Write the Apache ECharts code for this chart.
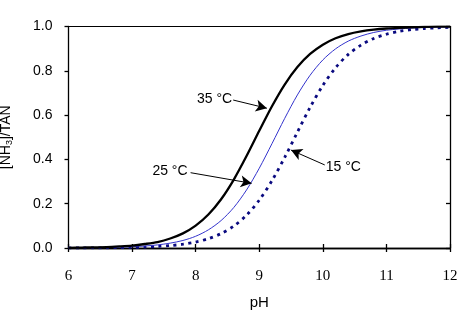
<!DOCTYPE html>
<html><head><meta charset="utf-8">
<script src="https://cdn.jsdelivr.net/npm/echarts@6/dist/echarts.min.js"></script>
<style>html,body{margin:0;padding:0;background:#fff}#c{width:474px;height:323px}</style>
</head><body><div id="c"></div>
<script>
var pH = [6.0,6.2,6.4,6.6,6.8,7.0,7.2,7.4,7.6,7.8,8.0,8.2,8.4,8.6,8.8,9.0,9.2,9.4,9.6,9.8,10.0,10.2,10.4,10.6,10.8,11.0,11.2,11.4,11.6,11.8,12.0];
var t35 = [0.001,0.002,0.003,0.004,0.007,0.011,0.018,0.027,0.043,0.066,0.101,0.151,0.220,0.309,0.415,0.529,0.640,0.738,0.817,0.876,0.918,0.947,0.966,0.978,0.986,0.991,0.994,0.996,0.998,0.999,0.999];
var t25 = [0.001,0.001,0.001,0.002,0.004,0.006,0.009,0.014,0.022,0.034,0.053,0.082,0.124,0.183,0.262,0.360,0.471,0.585,0.691,0.780,0.849,0.899,0.934,0.957,0.973,0.983,0.989,0.993,0.996,0.997,0.998];
var t15 = [0.000,0.000,0.001,0.001,0.002,0.003,0.004,0.007,0.011,0.017,0.027,0.042,0.065,0.099,0.148,0.216,0.304,0.409,0.523,0.635,0.734,0.814,0.874,0.916,0.946,0.965,0.978,0.986,0.991,0.994,0.996];
var seriesNames = ['35 °C','25 °C','15 °C'];
var xTicks = [6,7,8,9,10,11,12];
var yTicks = [0,0.2,0.4,0.6,0.8,1.0];
// annotation arrows: [startPH, startVal, tipPH, tipVal]
var arrow35 = [8.59,0.668,9.12,0.631];
var arrow25 = [7.92,0.340,8.88,0.292];
var arrow15 = [10.03,0.375,9.50,0.442];

function pts(ys){ return pH.map(function(x,i){return [x, ys[i]];}); }
function ml(a){ return [[{coord:[a[0],a[1]]},{coord:[a[2],a[3]]}]]; }
var markLineBase = function(a){ return {silent:true, symbol:['none','arrow'], symbolSize:[9,11], label:{show:false},
  lineStyle:{color:'#000',width:1,type:'solid'}, emphasis:{disabled:true}, data: ml(a), animation:false}; };

var chart = echarts.init(document.getElementById('c'), null, {renderer:'canvas'});
var sansFont = 'Liberation Sans, Arial, sans-serif';
var serifFont = 'Liberation Serif, Times New Roman, serif';
var axX = {type:'value', min:6, max:12, interval:1, axisLine:{lineStyle:{color:'#000',width:1.3}}, splitLine:{show:false}};
var axY = {type:'value', min:0, max:1, interval:0.2, axisLine:{lineStyle:{color:'#000',width:1.3}}, splitLine:{show:false}};
chart.setOption({
  animation:false,
  grid:{left:68.5, right:24, top:26.5, bottom:75, containLabel:false, outerBoundsMode:'none'},
  xAxis:[
    Object.assign({}, axX, {position:'bottom', axisTick:{length:4, lineStyle:{color:'#000',width:1.3}},
      axisLabel:{fontFamily:serifFont, fontSize:15, color:'#000', margin:21},
      name:'pH', nameLocation:'middle', nameGap:47, nameTextStyle:{fontFamily:sansFont, fontSize:15, color:'#000'}}),
    Object.assign({}, axX, {position:'bottom', axisTick:{inside:true, length:4, lineStyle:{color:'#000',width:1.3}}, axisLabel:{show:false}}),
    Object.assign({}, axX, {position:'top', axisLine:{lineStyle:{color:'#000',width:1}}, axisTick:{show:false}, axisLabel:{show:false}})
  ],
  yAxis:[
    Object.assign({}, axY, {axisTick:{length:4, lineStyle:{color:'#000',width:1.3}},
      axisLabel:{fontFamily:sansFont, fontSize:14, color:'#000', margin:16, formatter:function(v){return v.toFixed(1);}},
      name:'[NH{s|3}]/TAN', nameLocation:'middle', nameGap:54, nameRotate:90,
      nameTextStyle:{fontFamily:sansFont, fontSize:14, color:'#000', rich:{s:{fontSize:9, fontFamily:sansFont, color:'#000', verticalAlign:'bottom', padding:[8,0,0,0]}}}}),
    Object.assign({}, axY, {axisTick:{inside:true, length:4, lineStyle:{color:'#000',width:1.3}}, axisLabel:{show:false}})
  ],
  series:[
    {name:seriesNames[2], type:'line', data:pts(t15), showSymbol:false, smooth:0.3, lineStyle:{color:'#0a0a80', width:2.8, type:[3,4.5]}, markLine: markLineBase(arrow15)},
    {name:seriesNames[1], type:'line', data:pts(t25), showSymbol:false, smooth:0.3, lineStyle:{color:'#3333cc', width:1}, markLine: markLineBase(arrow25)},
    {name:seriesNames[0], type:'line', data:pts(t35), showSymbol:false, smooth:0.3, lineStyle:{color:'#000', width:2.3}, markLine: markLineBase(arrow35)}
  ]
});
function px(a){ return chart.convertToPixel({xAxisIndex:0, yAxisIndex:0}, [a[0],a[1]]); }
var p35 = px(arrow35), p25 = px(arrow25), p15 = px(arrow15);
var tStyle = {fontFamily:sansFont, fontSize:14, fill:'#000', verticalAlign:'middle'};
chart.setOption({graphic:[
  {type:'text', x:p35[0]-1, y:p35[1]-1, style:Object.assign({text:seriesNames[0], align:'right'}, tStyle)},
  {type:'text', x:p25[0]-3, y:p25[1]-2, style:Object.assign({text:seriesNames[1], align:'right'}, tStyle)},
  {type:'text', x:p15[0]+1, y:p15[1]+2, style:Object.assign({text:seriesNames[2], align:'left'}, tStyle)}
]});
</script></body></html>
